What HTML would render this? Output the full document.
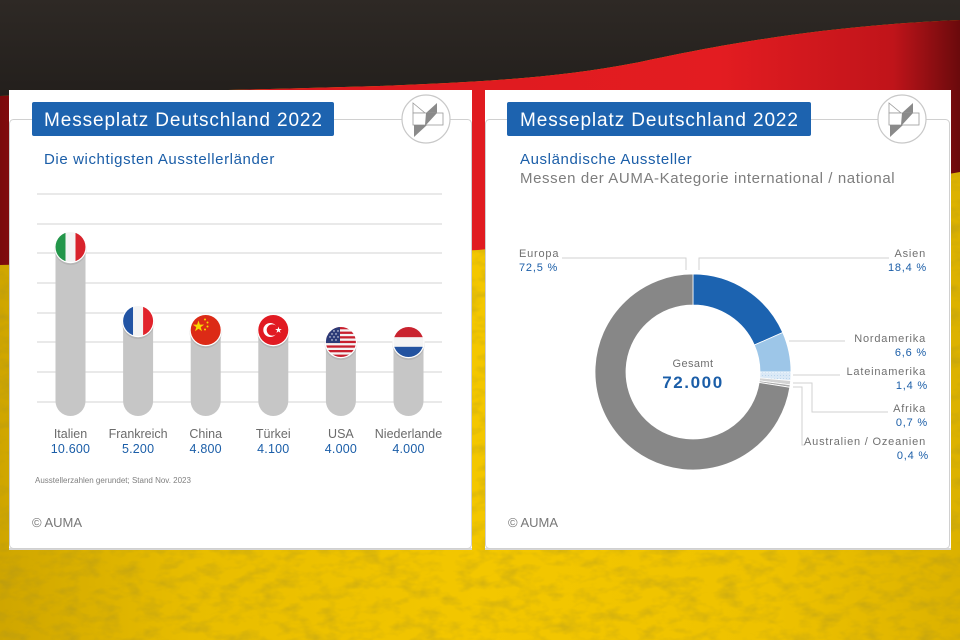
<!DOCTYPE html>
<html><head><meta charset="utf-8"><style>
html,body{margin:0;padding:0;width:960px;height:640px;overflow:hidden;background:#2a2522}
svg{display:block}
text{font-family:"Liberation Sans",sans-serif}
</style></head><body>
<svg width="960" height="640" viewBox="0 0 960 640" xmlns="http://www.w3.org/2000/svg">
<defs>
<linearGradient id="yel" x1="0" y1="0" x2="1" y2="0">
<stop offset="0" stop-color="#cfa600"/><stop offset="0.2" stop-color="#e8bd00"/><stop offset="0.5" stop-color="#f3c700"/><stop offset="0.8" stop-color="#eec200"/><stop offset="1" stop-color="#dcb200"/>
</linearGradient>
<linearGradient id="red" x1="0" y1="0" x2="1" y2="0">
<stop offset="0" stop-color="#7a0a0c"/><stop offset="0.08" stop-color="#b51217"/><stop offset="0.35" stop-color="#de1a1f"/><stop offset="0.75" stop-color="#e31c21"/><stop offset="0.93" stop-color="#c0141a"/><stop offset="1" stop-color="#6a0a0c"/>
</linearGradient>
<linearGradient id="dark" x1="0" y1="0" x2="0" y2="1">
<stop offset="0" stop-color="#2e2925"/><stop offset="1" stop-color="#231f1c"/>
</linearGradient>
<filter id="grain" x="0" y="0" width="100%" height="100%">
<feTurbulence type="fractalNoise" baseFrequency="0.05 0.09" numOctaves="3" seed="4"/>
<feColorMatrix type="matrix" values="0 0 0 0 0.35  0 0 0 0 0.27  0 0 0 0 0.02  2.2 0 0 0 -0.95"/>
</filter>
<clipPath id="yclip"><path d="M0,255 C150,262 350,255 478,250 C650,235 800,200 960,170 L960,640 L0,640 Z"/></clipPath>
<clipPath id="c1"><circle cx="70.5" cy="247" r="15"/></clipPath>
<clipPath id="c2"><circle cx="138.1" cy="321" r="15"/></clipPath>
<clipPath id="c3"><circle cx="205.7" cy="330" r="15"/></clipPath>
<clipPath id="c4"><circle cx="273.3" cy="330" r="15"/></clipPath>
<clipPath id="c5"><circle cx="340.9" cy="342" r="15"/></clipPath>
<clipPath id="c6"><circle cx="408.5" cy="342" r="15"/></clipPath>
<pattern id="dots" width="3" height="3" patternUnits="userSpaceOnUse"><rect width="3" height="3" fill="#dbe9f6"/><rect width="1" height="1" fill="#b9d4ec"/></pattern>
</defs>

<!-- background -->
<rect width="960" height="640" fill="url(#yel)"/>
<rect width="960" height="640" fill="#000" opacity="0.35" filter="url(#grain)" clip-path="url(#yclip)"/>
<path d="M0,0 H960 V20 C820,26 720,45 640,62 C560,78 480,82 380,86 C250,90 120,92 0,96 Z" fill="url(#dark)"/>
<path d="M0,96 C120,92 250,90 380,86 C480,82 560,78 640,62 C720,45 820,26 960,20 L960,172 C800,200 650,235 478,250 C350,256 150,262 0,265 Z" fill="url(#red)"/>

<!-- LEFT PANEL -->
<rect x="9" y="90" width="463" height="459" fill="#fff"/>
<rect x="9" y="548" width="463" height="2" fill="#d6d6d6"/>
<rect x="9.5" y="119.5" width="462" height="429" rx="4" fill="none" stroke="#d0d0d0" stroke-width="1"/>
<rect x="32" y="102" width="302" height="34" rx="2" fill="#1d63af"/>
<text x="44" y="126" font-size="19" letter-spacing="0.9" fill="#fff">Messeplatz Deutschland 2022</text>
<g transform="translate(426,119)">
<circle r="24" fill="#fff" stroke="#c8c8c8" stroke-width="1.2"/>
<polygon points="-13,-16 -1,-6 -13,-6" fill="#fff" stroke="#9a9a9a" stroke-width="0.8"/>
<polygon points="0,-6 11,-16 11,-6" fill="#8a8a8a"/>
<rect x="-13" y="-6" width="30" height="12" fill="#fff" stroke="#9a9a9a" stroke-width="0.8"/>
<polygon points="0,-6 11,-6 0,6 -1,6" fill="#8a8a8a"/>
<polygon points="-12,6 1,6 -12,18" fill="#8a8a8a"/>
</g>
<text x="44" y="164" font-size="15" letter-spacing="0.6" fill="#1b5ea8">Die wichtigsten Ausstellerländer</text>

<g stroke="#e2e2e2" stroke-width="1.5">
<line x1="37" y1="194" x2="442" y2="194"/>
<line x1="37" y1="224" x2="442" y2="224"/>
<line x1="37" y1="253" x2="442" y2="253"/>
<line x1="37" y1="283" x2="442" y2="283"/>
<line x1="37" y1="313" x2="442" y2="313"/>
<line x1="37" y1="342" x2="442" y2="342"/>
<line x1="37" y1="372" x2="442" y2="372"/>
<line x1="37" y1="402" x2="442" y2="402"/>
</g>
<g fill="#c6c6c6">
<path d="M55.5,247 V401 A15,15 0 0 0 85.5,401 V247 Z"/>
<path d="M123.1,321 V401 A15,15 0 0 0 153.1,401 V321 Z"/>
<path d="M190.7,330 V401 A15,15 0 0 0 220.7,401 V330 Z"/>
<path d="M258.3,330 V401 A15,15 0 0 0 288.3,401 V330 Z"/>
<path d="M325.9,342 V401 A15,15 0 0 0 355.9,401 V342 Z"/>
<path d="M393.5,342 V401 A15,15 0 0 0 423.5,401 V342 Z"/>
</g>
<!-- flags -->
<g>
<circle cx="70.5" cy="248.5" r="16.5" fill="#000" opacity="0.08"/>
<circle cx="70.5" cy="247" r="16.2" fill="#fff"/>
<g clip-path="url(#c1)"><rect x="55" y="232" width="10.5" height="30" fill="#23964a"/><rect x="65.5" y="232" width="10" height="30" fill="#f4f4f4"/><rect x="75.5" y="232" width="11" height="30" fill="#d8232c"/></g>

<circle cx="138.1" cy="322.5" r="16.5" fill="#000" opacity="0.08"/>
<circle cx="138.1" cy="321" r="16.2" fill="#fff"/>
<g clip-path="url(#c2)"><rect x="122" y="306" width="11.1" height="30" fill="#2254a4"/><rect x="133.1" y="306" width="10" height="30" fill="#f4f4f4"/><rect x="143.1" y="306" width="11" height="30" fill="#e1232b"/></g>

<circle cx="205.7" cy="331.5" r="16.5" fill="#000" opacity="0.08"/>
<circle cx="205.7" cy="330" r="16.2" fill="#fff"/>
<g clip-path="url(#c3)"><rect x="190" y="315" width="31" height="30" fill="#dc2a16"/>
<polygon points="198.5,320.5 199.9,324.6 204.2,324.6 200.7,327.1 202,331.2 198.5,328.7 195,331.2 196.3,327.1 192.8,324.6 197.1,324.6" fill="#f7d800"/>
<circle cx="205" cy="319.5" r="1" fill="#f7d800"/><circle cx="207.5" cy="322.5" r="1" fill="#f7d800"/><circle cx="207.5" cy="326.5" r="1" fill="#f7d800"/><circle cx="205" cy="329.5" r="1" fill="#f7d800"/></g>

<circle cx="273.3" cy="331.5" r="16.5" fill="#000" opacity="0.08"/>
<circle cx="273.3" cy="330" r="16.2" fill="#fff"/>
<g clip-path="url(#c4)"><rect x="258" y="315" width="31" height="30" fill="#e11a22"/>
<circle cx="270.3" cy="330" r="7" fill="#fff"/><circle cx="272.3" cy="330" r="5.6" fill="#e11a22"/>
<polygon points="278.5,326.6 279.3,329 281.8,329 279.8,330.5 280.5,332.9 278.5,331.4 276.5,332.9 277.2,330.5 275.2,329 277.7,329" fill="#fff"/></g>

<circle cx="340.9" cy="343.5" r="16.5" fill="#000" opacity="0.08"/>
<circle cx="340.9" cy="342" r="16.2" fill="#fff"/>
<g clip-path="url(#c5)"><rect x="325" y="327" width="32" height="30" fill="#f4f4f4"/>
<g fill="#c8202e"><rect x="325" y="327" width="32" height="2.3"/><rect x="325" y="331.6" width="32" height="2.3"/><rect x="325" y="336.2" width="32" height="2.3"/><rect x="325" y="340.8" width="32" height="2.3"/><rect x="325" y="345.4" width="32" height="2.3"/><rect x="325" y="350" width="32" height="2.3"/><rect x="325" y="354.6" width="32" height="2.4"/></g>
<rect x="325" y="327" width="15" height="16" fill="#2c3b78"/>
<g fill="#fff"><circle cx="330" cy="331" r="0.7"/><circle cx="334" cy="331" r="0.7"/><circle cx="338" cy="331" r="0.7"/><circle cx="332" cy="334" r="0.7"/><circle cx="336" cy="334" r="0.7"/><circle cx="330" cy="337" r="0.7"/><circle cx="334" cy="337" r="0.7"/><circle cx="338" cy="337" r="0.7"/><circle cx="332" cy="340" r="0.7"/><circle cx="336" cy="340" r="0.7"/></g></g>

<circle cx="408.5" cy="343.5" r="16.5" fill="#000" opacity="0.08"/>
<circle cx="408.5" cy="342" r="16.2" fill="#fff"/>
<g clip-path="url(#c6)"><rect x="393" y="327" width="31" height="10.3" fill="#c9232f"/><rect x="393" y="337.3" width="31" height="9.5" fill="#f4f4f4"/><rect x="393" y="346.8" width="31" height="11" fill="#2353a0"/></g>
</g>

<g font-size="12.5" text-anchor="middle" fill="#6b6b6b">
<text x="70.5" y="438">Italien</text>
<text x="138.1" y="438">Frankreich</text>
<text x="205.7" y="438">China</text>
<text x="273.3" y="438">Türkei</text>
<text x="340.9" y="438">USA</text>
<text x="408.5" y="438">Niederlande</text>
</g>
<g font-size="12.5" text-anchor="middle" fill="#1b5ea8" letter-spacing="0.2">
<text x="70.5" y="453">10.600</text>
<text x="138.1" y="453">5.200</text>
<text x="205.7" y="453">4.800</text>
<text x="273.3" y="453">4.100</text>
<text x="340.9" y="453">4.000</text>
<text x="408.5" y="453">4.000</text>
</g>
<text x="35" y="483" font-size="8" fill="#808080">Ausstellerzahlen gerundet; Stand Nov. 2023</text>
<text x="32" y="527" font-size="13" fill="#777">© AUMA</text>

<!-- RIGHT PANEL -->
<rect x="485" y="90" width="466" height="459" fill="#fff"/>
<rect x="485" y="548" width="466" height="2" fill="#d6d6d6"/>
<rect x="485.5" y="119.5" width="464" height="429" rx="4" fill="none" stroke="#d0d0d0" stroke-width="1"/>
<rect x="507" y="102" width="304" height="34" rx="2" fill="#1d63af"/>
<text x="520" y="126" font-size="19" letter-spacing="0.9" fill="#fff">Messeplatz Deutschland 2022</text>
<g transform="translate(902,119)">
<circle r="24" fill="#fff" stroke="#c8c8c8" stroke-width="1.2"/>
<polygon points="-13,-16 -1,-6 -13,-6" fill="#fff" stroke="#9a9a9a" stroke-width="0.8"/>
<polygon points="0,-6 11,-16 11,-6" fill="#8a8a8a"/>
<rect x="-13" y="-6" width="30" height="12" fill="#fff" stroke="#9a9a9a" stroke-width="0.8"/>
<polygon points="0,-6 11,-6 0,6 -1,6" fill="#8a8a8a"/>
<polygon points="-12,6 1,6 -12,18" fill="#8a8a8a"/>
</g>
<text x="520" y="164" font-size="15" letter-spacing="0.6" fill="#1b5ea8">Ausländische Aussteller</text>
<text x="520" y="183" font-size="15" letter-spacing="0.6" fill="#7d7d7d">Messen der AUMA-Kategorie international / national</text>

<!-- donut -->
<g stroke="#fff" stroke-width="0.8">
<path d="M693,274 A98,98 0 0 1 782.70,332.52 L754.33,345.01 A67,67 0 0 0 693,305 Z" fill="#1c63b0"/>
<path d="M782.70,332.52 A98,98 0 0 1 791,372 L760,372 A67,67 0 0 0 754.33,345.01 Z" fill="#9dc6e8"/>
<path d="M791,372 A98,98 0 0 1 790.62,380.61 L759.74,377.89 A67,67 0 0 0 760,372 Z" fill="url(#dots)"/>
<path d="M790.62,380.61 A98,98 0 0 1 790.15,384.90 L759.42,380.82 A67,67 0 0 0 759.74,377.89 Z" fill="#d2d2d2"/>
<path d="M790.15,384.90 A98,98 0 0 1 789.79,387.33 L759.18,382.48 A67,67 0 0 0 759.42,380.82 Z" fill="#a9a9a9"/>
<path d="M789.79,387.33 A98,98 0 1 1 693,274 L693,305 A67,67 0 1 0 759.18,382.48 Z" fill="#878787"/>
</g>
<text x="693" y="367" font-size="11" letter-spacing="0.4" text-anchor="middle" fill="#707070">Gesamt</text>
<text x="693" y="388" font-size="17" font-weight="bold" letter-spacing="1.6" text-anchor="middle" fill="#1b5ea8">72.000</text>

<g fill="none" stroke="#d2d2d2" stroke-width="1">
<path d="M562,258 H686 V270"/>
<path d="M699,270 V258 H889"/>
<path d="M789,341 H845"/>
<path d="M793,375 H840"/>
<path d="M793,383 H812 V412 H888"/>
<path d="M793,387 H802 V445 H805"/>
</g>
<g font-size="11" letter-spacing="0.8" fill="#707070">
<text x="519" y="257">Europa</text>
<text x="926" y="257" text-anchor="end">Asien</text>
<text x="926" y="342" text-anchor="end">Nordamerika</text>
<text x="926" y="375" text-anchor="end">Lateinamerika</text>
<text x="926" y="412" text-anchor="end">Afrika</text>
<text x="926" y="445" text-anchor="end">Australien / Ozeanien</text>
</g>
<g font-size="11" letter-spacing="0.8" fill="#1b5ea8">
<text x="519" y="271">72,5 %</text>
<text x="927" y="271" text-anchor="end">18,4 %</text>
<text x="927" y="356" text-anchor="end">6,6 %</text>
<text x="928" y="389" text-anchor="end">1,4 %</text>
<text x="928" y="426" text-anchor="end">0,7 %</text>
<text x="929" y="459" text-anchor="end">0,4 %</text>
</g>
<text x="508" y="527" font-size="13" fill="#777">© AUMA</text>
</svg>
</body></html>
